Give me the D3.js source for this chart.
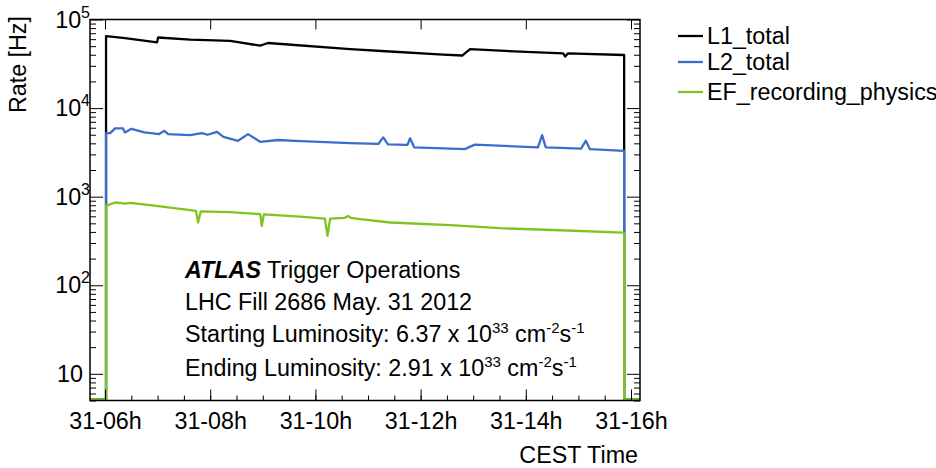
<!DOCTYPE html>
<html>
<head>
<meta charset="utf-8">
<script src="https://cdn.jsdelivr.net/npm/d3@7"></script>
<style>
  html, body { margin: 0; padding: 0; background: #fff; }
  svg { display: block; }
  text { font-family: "Liberation Sans", Arial, Helvetica, sans-serif; fill: #000; }
</style>
</head>
<body>
<svg id="chart" width="936" height="468"></svg>
<script>
// ---------------- data (time in hours of 31 May 2012, rate in Hz) ----------------
const seriesNames = ["L1_total", "L2_total", "EF_recording_physics"];
const seriesColors = ["#000000", "#3b6dcc", "#7fc41c"];

const l1Hours = [5.715, 6.02, 6.02, 6.38, 6.99, 7.01, 7.62, 8.38, 8.95, 9.10, 10.66, 11.42, 12.43, 12.79, 12.94, 13.51, 14.71, 14.75, 14.80, 15.87, 15.87, 16.171];
const l1Rates = [0, 0, 63400, 60200, 53800, 61000, 57600, 56000, 49300, 52900, 45200, 42400, 39200, 38200, 45200, 43300, 40400, 37200, 40300, 38700, 0, 0];

const l2Hours = [5.715, 6.02, 6.02, 6.10, 6.19, 6.34, 6.38, 6.50, 6.75, 7.03, 7.13, 7.20, 7.62, 7.84, 7.95, 8.13, 8.25, 8.53, 8.72, 8.95, 9.29, 9.61, 10.66, 11.20, 11.29, 11.38, 11.75, 11.80, 11.88, 12.84, 13.03, 14.23, 14.31, 14.38, 15.05, 15.14, 15.22, 15.87, 15.87, 16.171];
const l2Rates = [0, 0, 5085, 5085, 5745, 5745, 5177, 5688, 5177, 4955, 5397, 4955, 4828, 5085, 4870, 5260, 4600, 4160, 4955, 4055, 4250, 4160, 3920, 3850, 4550, 3800, 3750, 4450, 3505, 3350, 3770, 3505, 4828, 3505, 3400, 4160, 3350, 3208, 0, 0];

const efHours = [5.715, 6.02, 6.02, 6.19, 6.38, 6.48, 6.86, 7.73, 7.77, 7.82, 8.38, 8.95, 8.98, 9.02, 9.71, 10.18, 10.23, 10.28, 10.55, 10.62, 10.68, 10.85, 11.42, 12.56, 13.51, 14.65, 15.85, 15.87, 15.87, 16.171];
const efRates = [0, 0, 767, 838, 812, 830, 781, 673, 498, 665, 651, 618, 456, 615, 579, 552, 351, 550, 560, 591, 560, 542, 498, 464, 429, 407, 382, 382, 0, 0];

const yTickValues = [10, 100, 1000, 10000, 100000];
const yTickExponents = ["", "2", "3", "4", "5"];
const timeDomainHours = [5.715, 16.171];
const rateDomain = [5, 100000];

const infoLines = [
  ["LHC Fill 2686 May. 31 2012"],
  ["Starting Luminosity: 6.37 x 10", "33", " cm", "-2", "s", "-1"],
  ["Ending Luminosity: 2.91 x 10", "33", " cm", "-2", "s", "-1"]
];

// ---------------- layout ----------------
const svg = d3.select("#chart");
const L = 90, R = 640, T = 19.5, B = 400.5;
const FS = 23.3;
const SFS = 15;

const toDate = h => {
  const hh = Math.floor(h);
  const mm = (h - hh) * 60;
  return new Date(2012, 4, 31, hh, 0, 0, Math.round(mm * 60000));
};

const x = d3.scaleTime().domain(timeDomainHours.map(toDate)).range([L, R]);
const y = d3.scaleLog().domain(rateDomain).range([B, T]);

// ---------------- lines ----------------
const series = [
  { hours: l1Hours, rates: l1Rates },
  { hours: l2Hours, rates: l2Rates },
  { hours: efHours, rates: efRates }
];

const clipId = "plotclip";
svg.append("defs").append("clipPath").attr("id", clipId)
  .append("rect").attr("x", L - 1).attr("y", T).attr("width", R - L + 2).attr("height", B - T + 2);

const line = d3.line()
  .x(d => x(toDate(d[0])))
  .y(d => y(Math.max(d[1], rateDomain[0])) - 1);

const gLines = svg.append("g").attr("clip-path", `url(#${clipId})`);
series.forEach((s, i) => {
  const pts = s.hours.map((h, j) => [h, s.rates[j]]);
  gLines.append("path")
    .attr("d", line(pts))
    .attr("fill", "none")
    .attr("stroke", seriesColors[i])
    .attr("stroke-width", 2.3)
    .attr("stroke-linejoin", "round");
});

// ---------------- axes ----------------
const majorHours = d3.timeHour.every(2);
const minorMinutes = d3.timeMinute.every(30);
const fmtX = d3.timeFormat("%d-%Hh");

// bottom
const gB = svg.append("g").attr("transform", `translate(0,${B})`);
gB.call(d3.axisBottom(x).ticks(minorMinutes).tickSize(-5).tickFormat(""));
gB.call(g => g.selectAll(".domain").remove());
const gB2 = svg.append("g").attr("transform", `translate(0,${B})`);
gB2.call(d3.axisBottom(x).ticks(majorHours).tickSize(-11).tickPadding(8).tickFormat(fmtX));
gB2.call(g => g.selectAll(".domain").remove());
gB2.selectAll("text").attr("font-size", FS).attr("dy", "0.71em").attr("y", 12);

// top
const gT = svg.append("g").attr("transform", `translate(0,${T})`);
gT.call(d3.axisTop(x).ticks(minorMinutes).tickSize(-5).tickFormat(""));
gT.call(d3.axisTop(x).ticks(majorHours).tickSize(-10).tickFormat(""));
gT.call(g => g.selectAll(".domain").remove());

// left & right, minor ticks
const minorY = y.ticks().filter(v => !yTickValues.includes(v) && v > rateDomain[0] - 1e-9);
const gLm = svg.append("g").attr("transform", `translate(${L},0)`);
gLm.call(d3.axisLeft(y).tickValues(minorY).tickSize(-6).tickFormat(""));
gLm.call(g => g.selectAll(".domain").remove());
const gRm = svg.append("g").attr("transform", `translate(${R},0)`);
gRm.call(d3.axisRight(y).tickValues(minorY).tickSize(-6).tickFormat(""));
gRm.call(g => g.selectAll(".domain").remove());

// left & right, major ticks
const gL = svg.append("g").attr("transform", `translate(${L},0)`);
gL.call(d3.axisLeft(y).tickValues(yTickValues).tickSize(-13).tickFormat(""));
gL.call(g => g.selectAll(".domain").remove());
const gR = svg.append("g").attr("transform", `translate(${R},0)`);
gR.call(d3.axisRight(y).tickValues(yTickValues).tickSize(-13).tickFormat(""));
gR.call(g => g.selectAll(".domain").remove());

svg.selectAll(".tick line").attr("stroke", "#000").attr("stroke-width", 1);

// y tick labels with superscript exponents
yTickValues.forEach((v, i) => {
  const exp = yTickExponents[i];
  const t = svg.append("text")
    .attr("x", exp ? 90 : 83)
    .attr("y", y(v) + 8)
    .attr("text-anchor", "end")
    .attr("font-size", FS);
  t.append("tspan").text("10");
  if (exp) {
    t.append("tspan").attr("dy", -10).attr("font-size", SFS + 1).text(exp);
  }
});

// frame
svg.append("rect")
  .attr("x", L).attr("y", T).attr("width", R - L).attr("height", B - T)
  .attr("fill", "none").attr("stroke", "#000").attr("stroke-width", 1.5);

// axis titles
svg.append("text")
  .attr("transform", `translate(26,16) rotate(-90)`)
  .attr("text-anchor", "end")
  .attr("font-size", FS)
  .text("Rate [Hz]");

svg.append("text")
  .attr("x", 638).attr("y", 463)
  .attr("text-anchor", "end")
  .attr("font-size", FS)
  .text("CEST Time");

// ---------------- info text ----------------
const tx = 185;
const t0 = svg.append("text").attr("x", tx).attr("y", 278).attr("font-size", FS);
t0.append("tspan").attr("font-weight", "bold").attr("font-style", "italic").text("ATLAS");
t0.append("tspan").text(" Trigger Operations");

const baselines = [310, 342, 376];
infoLines.forEach((parts, i) => {
  const t = svg.append("text").attr("x", tx).attr("y", baselines[i]).attr("font-size", FS);
  parts.forEach((p, j) => {
    if (j % 2 === 1) {
      t.append("tspan").attr("dy", -9).attr("font-size", SFS).text(p);
    } else {
      const ts = t.append("tspan").text(p);
      if (j > 0) ts.attr("dy", 9);
    }
  });
});

// ---------------- legend ----------------
const legendY = [36, 62, 92];
seriesNames.forEach((name, i) => {
  svg.append("line")
    .attr("x1", 678).attr("x2", 703)
    .attr("y1", legendY[i]).attr("y2", legendY[i])
    .attr("stroke", seriesColors[i]).attr("stroke-width", 2.3);
  svg.append("text")
    .attr("x", 707).attr("y", legendY[i] + 8)
    .attr("font-size", FS)
    .text(name);
});
</script>
</body>
</html>
